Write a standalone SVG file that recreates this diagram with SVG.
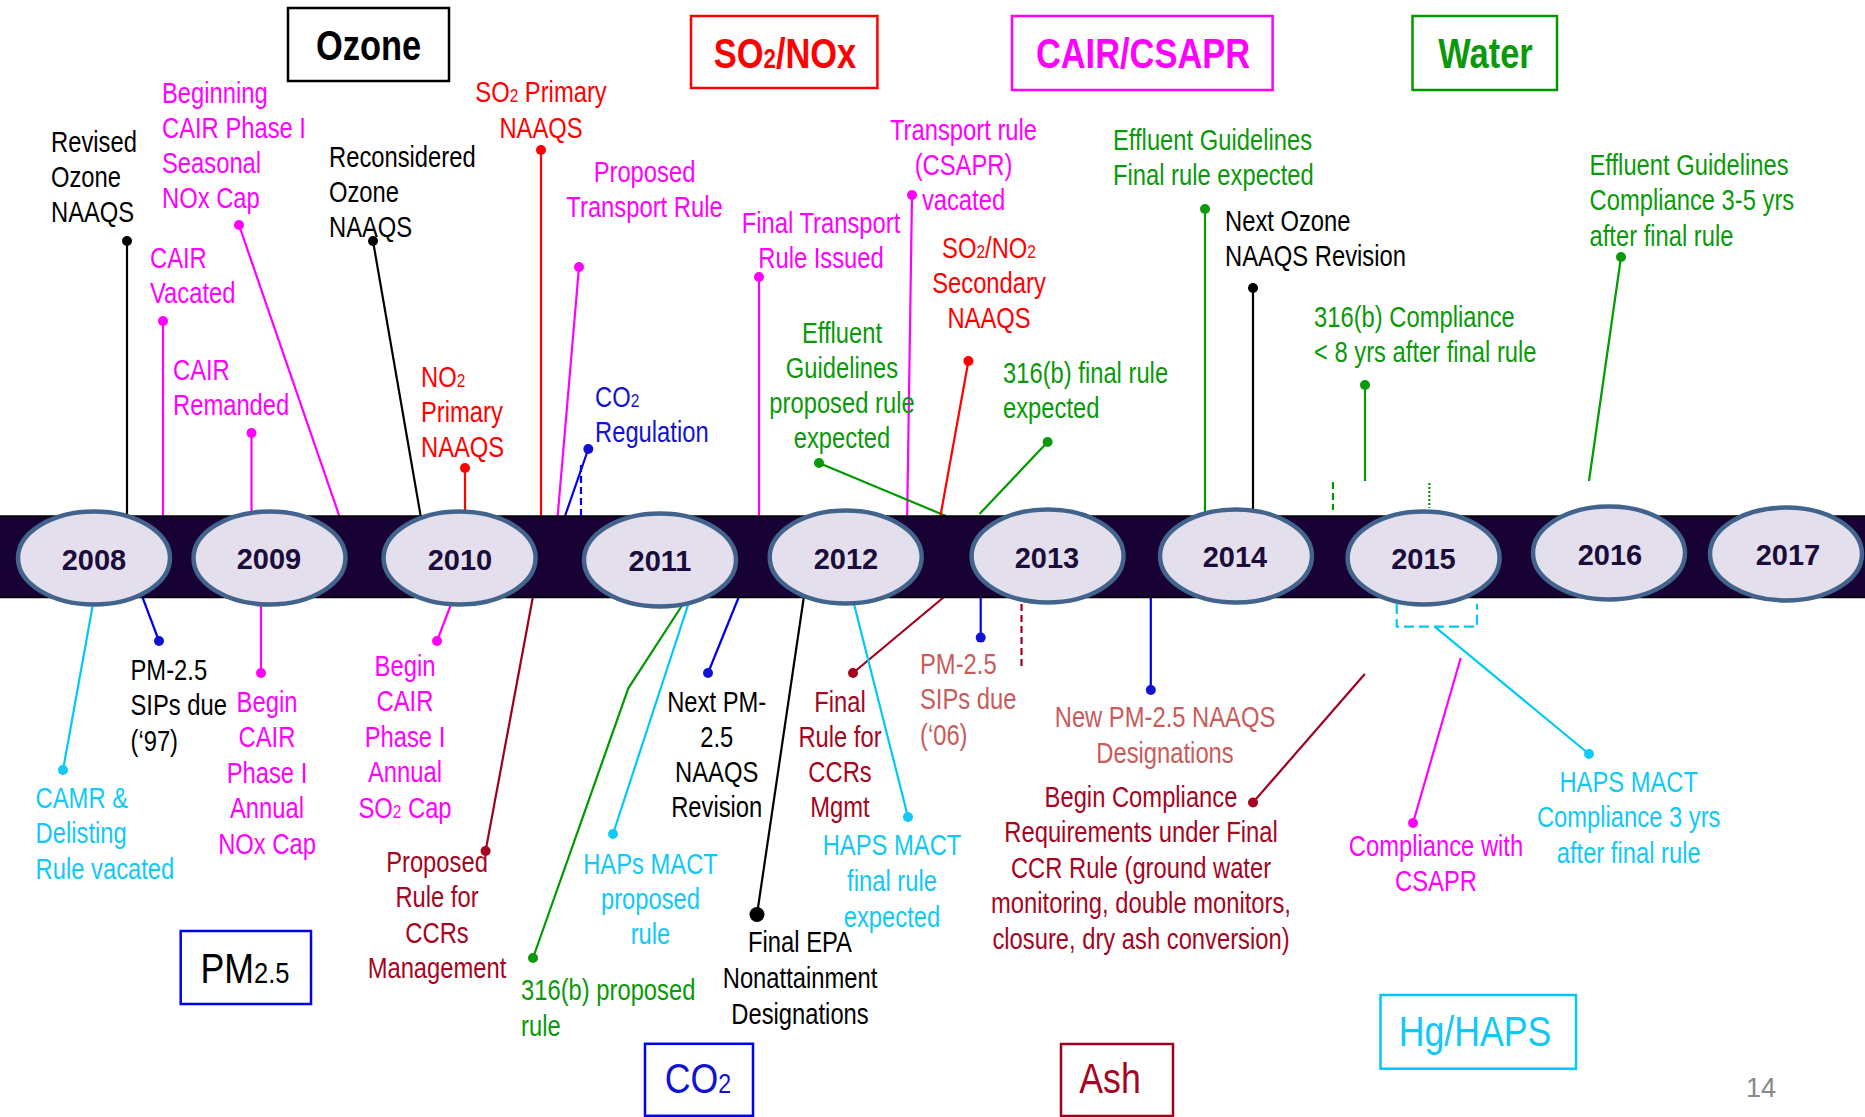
<svg xmlns="http://www.w3.org/2000/svg" width="1865" height="1117" viewBox="0 0 1865 1117">
<style>
text { font-family: "Liberation Sans", Arial, sans-serif; }
.l { font-size: 29px; }
.m { text-anchor: middle; }
.bx { font-size: 42px; text-anchor: middle; }
.bb { font-weight: bold; }
.yr { font-size: 29px; font-weight: bold; fill: #1c0c3c; text-anchor: middle; }
.sub { font-size: 65%; }
.k { fill: #000; } .mg { fill: #ff00ff; } .rd { fill: #ff0000; } .gr { fill: #0a990a; }
.bl { fill: #1212d2; } .cy { fill: #12c8f6; } .dr { fill: #a5051e; } .ir { fill: #c95b5b; }
.c line, .c polyline, .c path { fill: none; stroke-width: 2.2; }
.sk { stroke: #000; } .smg { stroke: #ff00ff; } .srd { stroke: #ff0000; } .sgr { stroke: #009900; }
.sbl { stroke: #0000ee; } .scy { stroke: #00c8f8; } .sdr { stroke: #a00020; }
.dash { stroke-dasharray: 7 4; }
.dot2 { stroke-dasharray: 2 2; }
.box { fill: #fff; stroke-width: 2.5; }
.yel { fill: #e4dfec; stroke: #42638c; stroke-width: 4.5; }
.bar { fill: #170233; stroke: #000; stroke-width: 1.5; }
.pg { font-size: 27px; fill: #888; text-anchor: middle; }
</style>

<g id="connectors" class="c">
  <line class="sk" x1="127" y1="241" x2="127" y2="522"/>
  <line class="smg" x1="239" y1="225" x2="340" y2="518"/>
  <line class="smg" x1="163" y1="321" x2="163" y2="522"/>
  <line class="smg" x1="251.5" y1="433" x2="251.5" y2="522"/>
  <line class="sk" x1="373" y1="241" x2="421" y2="518"/>
  <line class="srd" x1="541" y1="150" x2="541" y2="518"/>
  <line class="srd" x1="465" y1="468" x2="465" y2="522"/>
  <line class="smg" x1="579" y1="267" x2="557.5" y2="518"/>
  <line class="sbl" x1="588.3" y1="449" x2="564.3" y2="518"/>
  <line class="sbl dash" x1="581" y1="465" x2="581" y2="516"/>
  <line class="smg" x1="759" y1="277" x2="759" y2="522"/>
  <line class="smg" x1="912" y1="195" x2="907" y2="527"/>
  <line class="sgr" x1="819" y1="463" x2="946" y2="516"/>
  <line class="srd" x1="968.4" y1="361" x2="939" y2="524"/>
  <line class="sgr" x1="1047.6" y1="442" x2="979.5" y2="514"/>
  <line class="sgr" x1="1205" y1="209" x2="1205" y2="522"/>
  <line class="sk" x1="1253" y1="288" x2="1253" y2="522"/>
  <line class="sgr" x1="1365" y1="385" x2="1365" y2="481"/>
  <line class="sgr dash" x1="1333" y1="482" x2="1333" y2="510" stroke-width="2.5"/>
  <line class="sgr dot2" x1="1429.3" y1="483" x2="1429.3" y2="508"/>
  <line class="sgr" x1="1621" y1="257" x2="1589" y2="481"/>
  <line class="scy" x1="63" y1="770" x2="93.7" y2="600"/>
  <line class="sbl" x1="159" y1="641" x2="142" y2="596"/>
  <line class="smg" x1="261" y1="673" x2="261" y2="600"/>
  <line class="smg" x1="437" y1="641" x2="452.7" y2="600"/>
  <line class="sdr" x1="485.6" y1="851" x2="533.8" y2="592"/>
  <polyline class="sgr" points="533,958 628.3,688.3 683,604"/>
  <line class="scy" x1="613" y1="834" x2="689" y2="602"/>
  <line class="sbl" x1="708" y1="673" x2="740.8" y2="592"/>
  <line class="sk" x1="757" y1="914.5" x2="804" y2="596"/>
  <line class="sdr" x1="853" y1="673" x2="948.8" y2="593"/>
  <line class="scy" x1="908" y1="817" x2="853" y2="600"/>
  <line class="sbl" x1="980.7" y1="637.6" x2="980.7" y2="592"/>
  <line class="sdr dash" x1="1021.5" y1="604" x2="1021.5" y2="670"/>
  <line class="sbl" x1="1150.8" y1="690" x2="1150.8" y2="592"/>
  <line class="sdr" x1="1253" y1="802.5" x2="1364.8" y2="674"/>
  <line class="smg" x1="1413" y1="823" x2="1460.7" y2="658"/>
  <line class="scy" x1="1589" y1="754" x2="1434.7" y2="626.6"/>
  <path class="scy" d="M1396.7,604 V626.7 H1477 V604" stroke-dasharray="10 5"/>
  <g id="dots">
    <circle class="k" cx="127" cy="241" r="5"/>
    <circle class="mg" cx="239" cy="225" r="5"/>
    <circle class="mg" cx="163" cy="321" r="5"/>
    <circle class="mg" cx="251.5" cy="433" r="5"/>
    <circle class="k" cx="373" cy="241" r="5"/>
    <circle class="rd" cx="541" cy="150" r="5"/>
    <circle class="rd" cx="465" cy="468" r="5"/>
    <circle class="mg" cx="579" cy="267" r="5"/>
    <circle class="bl" cx="588.3" cy="449" r="5"/>
    <circle class="mg" cx="759" cy="277" r="5"/>
    <circle class="mg" cx="912" cy="195" r="5"/>
    <circle class="gr" cx="819" cy="463" r="5"/>
    <circle class="rd" cx="968.4" cy="361" r="5"/>
    <circle class="gr" cx="1047.6" cy="442" r="5"/>
    <circle class="gr" cx="1205" cy="209" r="5"/>
    <circle class="k" cx="1253" cy="288" r="5"/>
    <circle class="gr" cx="1365" cy="385" r="5"/>
    <circle class="gr" cx="1621" cy="257" r="5"/>
    <circle class="cy" cx="63" cy="770" r="5"/>
    <circle class="bl" cx="159" cy="641" r="5"/>
    <circle class="mg" cx="261" cy="673" r="5"/>
    <circle class="mg" cx="437" cy="641" r="5"/>
    <circle class="dr" cx="485.6" cy="851" r="5"/>
    <circle class="gr" cx="533" cy="958" r="5"/>
    <circle class="cy" cx="613" cy="834" r="5"/>
    <circle class="bl" cx="708" cy="673" r="5"/>
    <circle class="k" cx="757" cy="914.5" r="7.5"/>
    <circle class="dr" cx="853" cy="673" r="5"/>
    <circle class="cy" cx="908" cy="817" r="5"/>
    <circle class="bl" cx="980.7" cy="637.6" r="5"/>
    <circle class="bl" cx="1150.8" cy="690" r="5"/>
    <circle class="dr" cx="1253" cy="802.5" r="5"/>
    <circle class="mg" cx="1413" cy="823" r="5"/>
    <circle class="cy" cx="1589" cy="754" r="5"/>
  </g>
</g>

<g id="timeline">
  <rect class="bar" x="-2" y="516" width="1869" height="81.5"/>
  <g id="y2008"><ellipse class="yel" cx="94" cy="558" rx="76" ry="46.5"/><text class="yr" x="94" y="570">2008</text></g>
  <g id="y2009"><ellipse class="yel" cx="269.5" cy="558" rx="76" ry="46.5"/><text class="yr" x="269" y="569">2009</text></g>
  <g id="y2010"><ellipse class="yel" cx="459.6" cy="558" rx="76" ry="46.5"/><text class="yr" x="460" y="570">2010</text></g>
  <g id="y2011"><ellipse class="yel" cx="660" cy="560" rx="76" ry="46.5"/><text class="yr" x="660" y="571">2011</text></g>
  <g id="y2012"><ellipse class="yel" cx="845.7" cy="557" rx="76" ry="46.5"/><text class="yr" x="846" y="569">2012</text></g>
  <g id="y2013"><ellipse class="yel" cx="1047.6" cy="556" rx="76" ry="46.5"/><text class="yr" x="1047" y="568">2013</text></g>
  <g id="y2014"><ellipse class="yel" cx="1236" cy="556" rx="76" ry="46.5"/><text class="yr" x="1235" y="567">2014</text></g>
  <g id="y2015"><ellipse class="yel" cx="1423.6" cy="558" rx="76" ry="46.5"/><text class="yr" x="1423.5" y="569">2015</text></g>
  <g id="y2016"><ellipse class="yel" cx="1609" cy="553" rx="76" ry="46.5"/><text class="yr" x="1610" y="565">2016</text></g>
  <g id="y2017"><ellipse class="yel" cx="1786" cy="554" rx="76" ry="46.5"/><text class="yr" x="1788" y="565">2017</text></g>
</g>

<g id="box-ozone"><rect class="box" x="288" y="8" width="161" height="73" stroke="#000"/><text class="bx bb k" transform="translate(368.5,60) scale(0.82,1)">Ozone</text></g>
<g id="box-so2nox"><rect class="box" x="691" y="16" width="186.4" height="72" stroke="#ff0000"/><text class="bx bb rd" transform="translate(785,68) scale(0.82,1)">SO<tspan class="sub">2</tspan>/NOx</text></g>
<g id="box-cair"><rect class="box" x="1012" y="16" width="260.6" height="74" stroke="#ff00ff"/><text class="bx bb mg" transform="translate(1143,68) scale(0.82,1)">CAIR/CSAPR</text></g>
<g id="box-water"><rect class="box" x="1412.5" y="16" width="144.5" height="74" stroke="#009900"/><text class="bx bb gr" transform="translate(1485.5,68) scale(0.82,1)">Water</text></g>
<g id="box-pm"><rect class="box" x="180.7" y="931" width="130.3" height="73" stroke="#0000ee"/><text class="bx k" transform="translate(245,982.5) scale(0.85,1)">PM<tspan font-size="30">2.5</tspan></text></g>
<g id="box-co2"><rect class="box" x="645" y="1043.8" width="108" height="72" stroke="#0000ee"/><text class="bx bl" transform="translate(698,1093) scale(0.85,1)">CO<tspan class="sub">2</tspan></text></g>
<g id="box-ash"><rect class="box" x="1061" y="1044" width="112" height="72" stroke="#a00020"/><text class="bx dr" transform="translate(1110,1093) scale(0.85,1)">Ash</text></g>
<g id="box-hg"><rect class="box" x="1380.5" y="995" width="195.5" height="73.7" stroke="#00c8f8"/><text class="bx cy" transform="translate(1475,1046) scale(0.85,1)">Hg/HAPS</text></g>

<g id="t-revised"><text class="l k" transform="translate(51,152) scale(0.82,1)"><tspan x="0" y="0">Revised</tspan><tspan x="0" y="35">Ozone</tspan><tspan x="0" y="70">NAAQS</tspan></text></g>
<g id="t-beginning"><text class="l mg" transform="translate(162,103) scale(0.82,1)"><tspan x="0" y="0">Beginning</tspan><tspan x="0" y="35">CAIR Phase I</tspan><tspan x="0" y="70">Seasonal</tspan><tspan x="0" y="105">NOx Cap</tspan></text></g>
<g id="t-vacated"><text class="l mg" transform="translate(150,268) scale(0.82,1)"><tspan x="0" y="0">CAIR</tspan><tspan x="0" y="35">Vacated</tspan></text></g>
<g id="t-remanded"><text class="l mg" transform="translate(173,380) scale(0.82,1)"><tspan x="0" y="0">CAIR</tspan><tspan x="0" y="35">Remanded</tspan></text></g>
<g id="t-reconsidered"><text class="l k" transform="translate(329,167) scale(0.82,1)"><tspan x="0" y="0">Reconsidered</tspan><tspan x="0" y="35">Ozone</tspan><tspan x="0" y="70">NAAQS</tspan></text></g>
<g id="t-so2primary"><text class="l rd m" transform="translate(541,102) scale(0.82,1)"><tspan x="0" y="0">SO<tspan class="sub">2</tspan> Primary</tspan><tspan x="0" y="36">NAAQS</tspan></text></g>
<g id="t-no2primary"><text class="l rd" transform="translate(421,387) scale(0.82,1)"><tspan x="0" y="0">NO<tspan class="sub">2</tspan></tspan><tspan x="0" y="35">Primary</tspan><tspan x="0" y="70">NAAQS</tspan></text></g>
<g id="t-proposedtransport"><text class="l mg m" transform="translate(644.5,182) scale(0.82,1)"><tspan x="0" y="0">Proposed</tspan><tspan x="0" y="35">Transport Rule</tspan></text></g>
<g id="t-co2reg"><text class="l bl" transform="translate(595,407) scale(0.82,1)"><tspan x="0" y="0">CO<tspan class="sub">2</tspan></tspan><tspan x="0" y="35">Regulation</tspan></text></g>
<g id="t-finaltransport"><text class="l mg m" transform="translate(821,233) scale(0.82,1)"><tspan x="0" y="0">Final Transport</tspan><tspan x="0" y="35">Rule Issued</tspan></text></g>
<g id="t-csaprvacated"><text class="l mg m" transform="translate(963.5,140) scale(0.82,1)"><tspan x="0" y="0">Transport rule</tspan><tspan x="0" y="35">(CSAPR)</tspan><tspan x="0" y="70">vacated</tspan></text></g>
<g id="t-effluentproposed"><text class="l gr m" transform="translate(842,343) scale(0.82,1)"><tspan x="0" y="0">Effluent</tspan><tspan x="0" y="35">Guidelines</tspan><tspan x="0" y="70">proposed rule</tspan><tspan x="0" y="105">expected</tspan></text></g>
<g id="t-secondary"><text class="l rd m" transform="translate(989,258) scale(0.82,1)"><tspan x="0" y="0">SO<tspan class="sub">2</tspan>/NO<tspan class="sub">2</tspan></tspan><tspan x="0" y="35">Secondary</tspan><tspan x="0" y="70">NAAQS</tspan></text></g>
<g id="t-316final"><text class="l gr" transform="translate(1003,383) scale(0.82,1)"><tspan x="0" y="0">316(b) final rule</tspan><tspan x="0" y="35">expected</tspan></text></g>
<g id="t-effluentfinal"><text class="l gr" transform="translate(1113,150) scale(0.82,1)"><tspan x="0" y="0">Effluent Guidelines</tspan><tspan x="0" y="35">Final rule expected</tspan></text></g>
<g id="t-nextozone"><text class="l k" transform="translate(1225,230.5) scale(0.82,1)"><tspan x="0" y="0">Next Ozone</tspan><tspan x="0" y="35.5">NAAQS Revision</tspan></text></g>
<g id="t-316compliance"><text class="l gr" transform="translate(1314,327) scale(0.82,1)"><tspan x="0" y="0">316(b) Compliance</tspan><tspan x="0" y="35.5">&lt; 8 yrs after final rule</tspan></text></g>
<g id="t-effluentcompliance"><text class="l gr" transform="translate(1589.5,175) scale(0.82,1)"><tspan x="0" y="0">Effluent Guidelines</tspan><tspan x="0" y="35.5">Compliance 3-5 yrs</tspan><tspan x="0" y="71">after final rule</tspan></text></g>

<g id="b-camr"><text class="l cy" transform="translate(35.6,808) scale(0.82,1)"><tspan x="0" y="0">CAMR &amp;</tspan><tspan x="0" y="35.5">Delisting</tspan><tspan x="0" y="71">Rule vacated</tspan></text></g>
<g id="b-pm97"><text class="l k" transform="translate(130.5,680) scale(0.82,1)"><tspan x="0" y="0">PM-2.5</tspan><tspan x="0" y="35.5">SIPs due</tspan><tspan x="0" y="71">(‘97)</tspan></text></g>
<g id="b-caircnox"><text class="l mg m" transform="translate(267,711.6) scale(0.82,1)"><tspan x="0" y="0">Begin</tspan><tspan x="0" y="35.5">CAIR</tspan><tspan x="0" y="71">Phase I</tspan><tspan x="0" y="106.5">Annual</tspan><tspan x="0" y="142">NOx Cap</tspan></text></g>
<g id="b-cairso2"><text class="l mg m" transform="translate(405,676) scale(0.82,1)"><tspan x="0" y="0">Begin</tspan><tspan x="0" y="35.5">CAIR</tspan><tspan x="0" y="71">Phase I</tspan><tspan x="0" y="106.5">Annual</tspan><tspan x="0" y="142">SO<tspan class="sub">2</tspan> Cap</tspan></text></g>
<g id="b-proposedccr"><text class="l dr m" transform="translate(437,872) scale(0.82,1)"><tspan x="0" y="0">Proposed</tspan><tspan x="0" y="35.5">Rule for</tspan><tspan x="0" y="71">CCRs</tspan><tspan x="0" y="106.5">Management</tspan></text></g>
<g id="b-316proposed"><text class="l gr" transform="translate(521,1000) scale(0.82,1)"><tspan x="0" y="0">316(b) proposed</tspan><tspan x="0" y="36">rule</tspan></text></g>
<g id="b-hapsproposed"><text class="l cy m" transform="translate(650.5,874) scale(0.82,1)"><tspan x="0" y="0">HAPs MACT</tspan><tspan x="0" y="35">proposed</tspan><tspan x="0" y="70">rule</tspan></text></g>
<g id="b-nextpm"><text class="l k m" transform="translate(716.7,711.6) scale(0.82,1)"><tspan x="0" y="0">Next PM-</tspan><tspan x="0" y="35">2.5</tspan><tspan x="0" y="70">NAAQS</tspan><tspan x="0" y="105">Revision</tspan></text></g>
<g id="b-finalepa"><text class="l k m" transform="translate(800,952) scale(0.82,1)"><tspan x="0" y="0">Final EPA</tspan><tspan x="0" y="36">Nonattainment</tspan><tspan x="0" y="72">Designations</tspan></text></g>
<g id="b-finalccr"><text class="l dr m" transform="translate(840,711.6) scale(0.82,1)"><tspan x="0" y="0">Final</tspan><tspan x="0" y="35">Rule for</tspan><tspan x="0" y="70">CCRs</tspan><tspan x="0" y="105">Mgmt</tspan></text></g>
<g id="b-hapsfinal"><text class="l cy m" transform="translate(892,855) scale(0.82,1)"><tspan x="0" y="0">HAPS MACT</tspan><tspan x="0" y="36">final rule</tspan><tspan x="0" y="72">expected</tspan></text></g>
<g id="b-pm06"><text class="l ir" transform="translate(920,674) scale(0.82,1)"><tspan x="0" y="0">PM-2.5</tspan><tspan x="0" y="35.5">SIPs due</tspan><tspan x="0" y="71">(‘06)</tspan></text></g>
<g id="b-newpm"><text class="l ir m" transform="translate(1165,727.4) scale(0.82,1)"><tspan x="0" y="0">New PM-2.5 NAAQS</tspan><tspan x="0" y="35.6">Designations</tspan></text></g>
<g id="b-begincompliance"><text class="l dr m" transform="translate(1141,806.5) scale(0.82,1)"><tspan x="0" y="0">Begin Compliance</tspan><tspan x="0" y="35.6">Requirements under Final</tspan><tspan x="0" y="71.2">CCR Rule (ground water</tspan><tspan x="0" y="106.8">monitoring, double monitors,</tspan><tspan x="0" y="142.4">closure, dry ash conversion)</tspan></text></g>
<g id="b-csapr"><text class="l mg m" transform="translate(1436,856) scale(0.82,1)"><tspan x="0" y="0">Compliance with</tspan><tspan x="0" y="35.5">CSAPR</tspan></text></g>
<g id="b-hapscompliance"><text class="l cy m" transform="translate(1628.7,792) scale(0.82,1)"><tspan x="0" y="0">HAPS MACT</tspan><tspan x="0" y="35.5">Compliance 3 yrs</tspan><tspan x="0" y="71">after final rule</tspan></text></g>

<text class="pg" x="1761" y="1097">14</text>
</svg>
